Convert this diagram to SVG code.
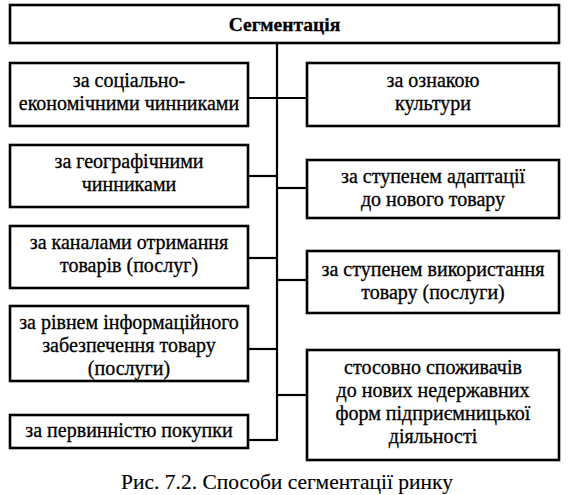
<svg xmlns="http://www.w3.org/2000/svg" width="581" height="495" viewBox="0 0 581 495">
<style>
.box{fill:#fff;stroke:#000;stroke-width:2.6}
.t{font-family:'Liberation Serif','DejaVu Serif',serif;font-size:20px;fill:#000;stroke:#000;stroke-width:0.3;text-anchor:middle}
.b{font-weight:bold;font-size:19.5px}
.c{fill:none;stroke:#000;stroke-width:2.2}
</style>
<rect width="581" height="495" fill="#fff"/>
<g id="connectors">
<path class="c" d="M277,43V441"/>
<path class="c" d="M248,98H307"/>
<path class="c" d="M248,176H277"/>
<path class="c" d="M277,188H307"/>
<path class="c" d="M248,258H277"/>
<path class="c" d="M277,280H307"/>
<path class="c" d="M248,349H277"/>
<path class="c" d="M277,395H307"/>
<path class="c" d="M248,440H277"/>
</g>
<g id="n-root"><rect class="box" x="10" y="5" width="549" height="38"/><text class="t b" x="284.5" y="31">Сегментація</text></g>
<g id="n-l1"><rect class="box" x="10" y="63" width="238" height="63"/><text class="t" x="129" y="87">за соціально-</text><text class="t" x="129" y="110">економічними чинниками</text></g>
<g id="n-r1"><rect class="box" x="307" y="63" width="252" height="63"/><text class="t" x="433" y="87">за ознакою</text><text class="t" x="433" y="110">культури</text></g>
<g id="n-l2"><rect class="box" x="10" y="145" width="238" height="62"/><text class="t" x="129" y="168">за географічними</text><text class="t" x="129" y="191">чинниками</text></g>
<g id="n-r2"><rect class="box" x="307" y="160" width="252" height="58"/><text class="t" x="433" y="183">за ступенем адаптації</text><text class="t" x="433" y="206">до нового товару</text></g>
<g id="n-l3"><rect class="box" x="10" y="226" width="238" height="62"/><text class="t" x="129" y="249">за каналами отримання</text><text class="t" x="129" y="272">товарів (послуг)</text></g>
<g id="n-r3"><rect class="box" x="307" y="251" width="252" height="62"/><text class="t" x="433" y="276">за ступенем використання</text><text class="t" x="433" y="299">товару (послуги)</text></g>
<g id="n-l4"><rect class="box" x="10" y="306" width="238" height="75"/><text class="t" x="129" y="329">за рівнем інформаційного</text><text class="t" x="129" y="352">забезпечення товару</text><text class="t" x="129" y="375">(послуги)</text></g>
<g id="n-l5"><rect class="box" x="10" y="415" width="238" height="33"/><text class="t" x="129" y="437">за первинністю покупки</text></g>
<g id="n-r4"><rect class="box" x="307" y="350" width="252" height="110"/><text class="t" x="433" y="374">стосовно споживачів</text><text class="t" x="433" y="397">до нових недержавних</text><text class="t" x="433" y="420">форм підприємницької</text><text class="t" x="433" y="443">діяльності</text></g>
<text class="t" x="287" y="489" style="font-size:21.5px;stroke-width:0.15">Рис. 7.2. Способи сегментації ринку</text>
</svg>
